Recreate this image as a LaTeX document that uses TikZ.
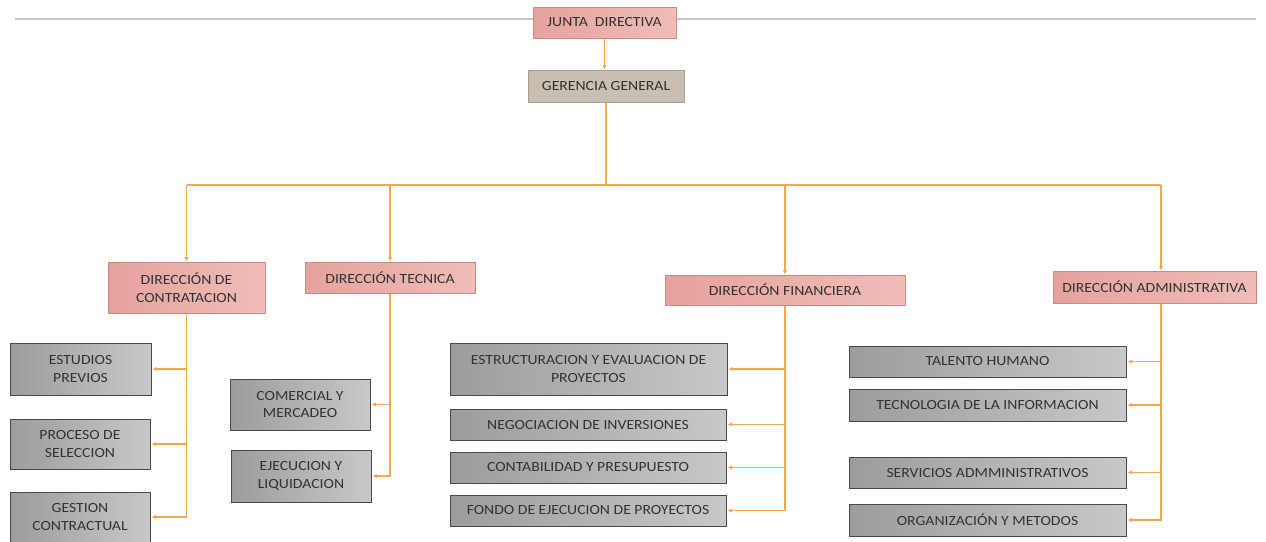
\documentclass[tikz,border=0pt]{standalone}
\usepackage{fontspec}
\setmainfont{Carlito}[FakeStretch=1.12]
\usetikzlibrary{arrows.meta,calc}
\definecolor{pinkfill}{HTML}{E6A29C}
\definecolor{pinklight}{HTML}{F0BDB8}
\definecolor{pinkedge}{HTML}{C98B86}
\definecolor{grayfill}{HTML}{9C9C9C}
\definecolor{graylight}{HTML}{C8C8C8}
\definecolor{grayedge}{HTML}{4A4A4A}
\definecolor{tanfill}{HTML}{C8BEB1}
\definecolor{tanedge}{HTML}{A89E92}
\definecolor{linkc}{HTML}{F0A850}
\definecolor{txt}{HTML}{333333}
\definecolor{rulec}{HTML}{C8C8C8}
\begin{document}
\begin{tikzpicture}[x=1pt,y=-1pt,
  box/.style={draw, line width=1pt, inner sep=1pt, align=center, text=txt,
    font=\fontsize{14}{17.5}\selectfont},
  dirbox/.style={box, draw=pinkedge, left color=pinkfill, right color=pinklight},
  subbox/.style={box, draw=grayedge, left color=grayfill, right color=graylight},
  genbox/.style={box, draw=tanedge, fill=tanfill},
  link/.style={draw=linkc, line width=1.1pt},
  arr/.style={link, -{Latex[length=4.5pt,width=4.5pt]}},
]
\useasboundingbox (0,0) rectangle (1266,541);
\fill[white] (0,0) rectangle (1266,541);
\coordinate (ruleL) at (15,19);
\coordinate (ruleR) at (1256,19);
\draw[rulec, line width=2pt] (ruleL) -- (ruleR);

% top
\node[dirbox, minimum width=143pt, minimum height=31pt] (junta) at (604.5,22.5) {JUNTA\ \ DIRECTIVA};
\node[genbox, minimum width=156pt, minimum height=32pt] (gerencia) at (606,86) {GERENCIA GENERAL};

% directions
\node[dirbox, minimum width=157pt, minimum height=51pt] (contr) at (186.5,287.5) {DIRECCIÓN DE\\CONTRATACION};
\node[dirbox, minimum width=170pt, minimum height=31pt] (tecnica) at (390,277.5) {DIRECCIÓN TECNICA};
\node[dirbox, minimum width=240pt, minimum height=30pt] (financ) at (785,290) {DIRECCIÓN FINANCIERA};
\node[dirbox, minimum width=203pt, minimum height=32pt] (admin) at (1154.5,287) {DIRECCIÓN ADMINISTRATIVA};

% contratacion children
\node[subbox, minimum width=141pt, minimum height=52pt] (estudios) at (80.5,369) {ESTUDIOS\\PREVIOS};
\node[subbox, minimum width=140pt, minimum height=50pt] (proceso) at (80,444) {PROCESO DE\\SELECCION};
\node[subbox, minimum width=140pt, minimum height=50pt] (gestion) at (80,517) {GESTION\\CONTRACTUAL};

% tecnica children
\node[subbox, minimum width=140pt, minimum height=51pt] (comercial) at (300,404.5) {COMERCIAL Y\\MERCADEO};
\node[subbox, minimum width=140pt, minimum height=52pt] (ejecucion) at (301,476) {EJECUCION Y\\LIQUIDACION};

% financiera children
\node[subbox, minimum width=277pt, minimum height=52pt] (estruct) at (588.5,369) {ESTRUCTURACION Y EVALUACION DE\\PROYECTOS};
\node[subbox, minimum width=276pt, minimum height=31pt] (negoc) at (588,424.5) {NEGOCIACION DE INVERSIONES};
\node[subbox, minimum width=276pt, minimum height=31pt] (contab) at (588,467.5) {CONTABILIDAD Y PRESUPUESTO};
\node[subbox, minimum width=276pt, minimum height=31pt] (fondo) at (588,510.5) {FONDO DE EJECUCION DE PROYECTOS};

% administrativa children
\node[subbox, minimum width=277pt, minimum height=31pt] (talento) at (987.5,361.5) {TALENTO HUMANO};
\node[subbox, minimum width=277pt, minimum height=32pt] (tecnol) at (987.5,405) {TECNOLOGIA DE LA INFORMACION};
\node[subbox, minimum width=277pt, minimum height=31pt] (servicios) at (987.5,472.5) {SERVICIOS ADMMINISTRATIVOS};
\node[subbox, minimum width=277pt, minimum height=32pt] (organiz) at (987.5,520) {ORGANIZACIÓN Y METODOS};

% connectors
\draw[arr] (junta.south) -- (junta.south |- gerencia.north);
\coordinate (bus) at (606,185);
\coordinate (busL) at (186.5,185);
\coordinate (busT) at (390,185);
\coordinate (busF) at (785,185);
\coordinate (busR) at (1161,185);
\draw[link] (gerencia.south) -- (bus);
\draw[link] (busL) -- (busR);
\draw[arr] (busL) -- (contr.north);
\draw[arr] (busT) -- (tecnica.north);
\draw[arr] (busF) -- (financ.north);
\draw[arr] (busR) -- (busR |- admin.north);

\coordinate (trA) at (busR |- admin.south);
\foreach \c in {estudios,proceso,gestion}{\draw[arr, shorten >=1pt] (contr.south) |- (\c.east);}
\foreach \c in {comercial,ejecucion}{\draw[arr, shorten >=1pt] (tecnica.south) |- (\c.east);}
\foreach \c in {estruct,negoc,contab,fondo}{\draw[arr, shorten >=1pt] (financ.south) |- (\c.east);}
\foreach \c in {talento,tecnol,servicios,organiz}{\draw[arr, shorten >=1pt] (trA) |- (\c.east);}
\end{tikzpicture}
\end{document}
